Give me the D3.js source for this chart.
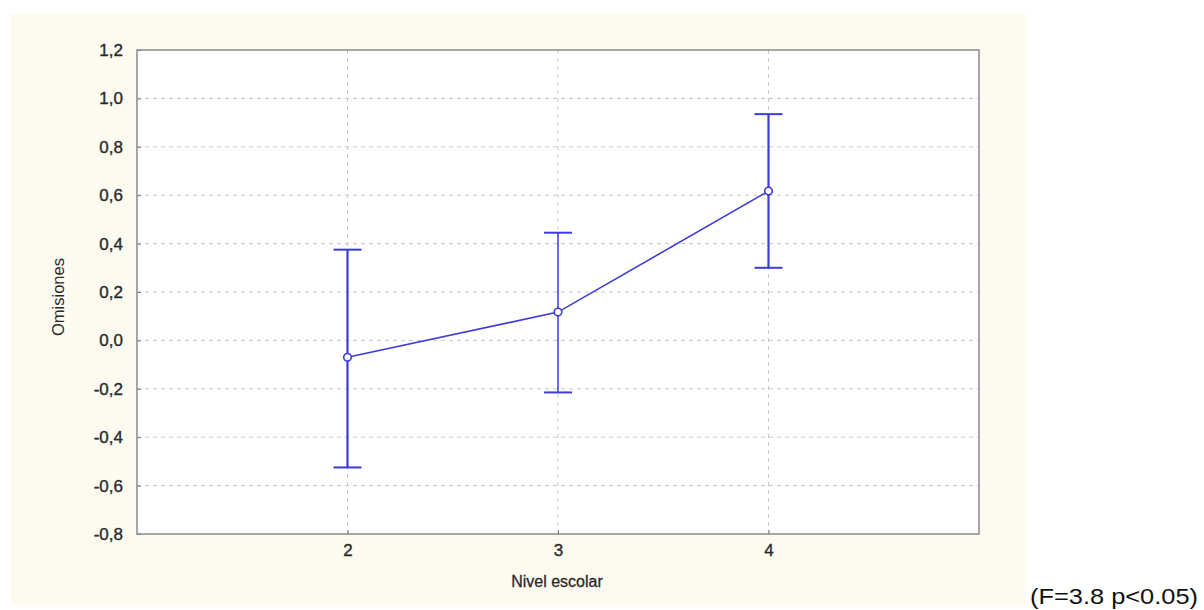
<!DOCTYPE html>
<html>
<head>
<meta charset="utf-8">
<script src="https://cdn.jsdelivr.net/npm/d3@7"></script>
<style>
  body { margin: 0; background: #fff; }
  svg { display: block; }
</style>
</head>
<body>
<div id="chart"></div>
<script>
// data
const levels = [2, 3, 4];
const means = [-0.07, 0.117, 0.617];
const upper = [0.375, 0.445, 0.935];
const lower = [-0.525, -0.215, 0.3];
const yTicks = [-0.8, -0.6, -0.4, -0.2, 0.0, 0.2, 0.4, 0.6, 0.8, 1.0, 1.2];

const W = 1204, H = 610;
const margin = { top: 50, right: 225, bottom: 76, left: 137 },
      width = 979 - margin.left,
      height = 534 - margin.top;

const svg = d3.select("#chart")
  .append("svg")
  .attr("width", W)
  .attr("height", H);

// cream panel
svg.append("rect")
  .attr("x", 11).attr("y", 14)
  .attr("width", 1015).attr("height", 591)
  .attr("fill", "#fdfaf0");

const g = svg.append("g")
  .attr("transform", `translate(${margin.left},${margin.top})`);

const x = d3.scaleLinear().domain([1, 5]).range([0, width]);
const y = d3.scaleLinear().domain([-0.8, 1.2]).range([height, 0]);

g.append("rect")
  .attr("width", width).attr("height", height)
  .attr("fill", "#fff");

// grid
g.selectAll(".hgrid")
  .data(yTicks.slice(1, -1))
  .enter().append("line")
  .attr("x1", 0).attr("x2", width)
  .attr("y1", d => y(d)).attr("y2", d => y(d))
  .attr("stroke", "#c8c8c8")
  .attr("stroke-dasharray", "4,4");

g.selectAll(".vgrid")
  .data(levels)
  .enter().append("line")
  .attr("x1", d => x(d)).attr("x2", d => x(d))
  .attr("y1", 0).attr("y2", height)
  .attr("stroke", "#c8c8c8")
  .attr("stroke-dasharray", "4,4");

// axes
const fmt = d => d3.format(".1f")(d).replace(".", ",").replace("−", "-");
const yAxis = g.append("g")
  .call(d3.axisLeft(y).tickValues(yTicks).tickFormat(fmt).tickSize(-4).tickPadding(14));
const xAxis = g.append("g")
  .attr("transform", `translate(0,${height})`)
  .call(d3.axisBottom(x).tickValues(levels).tickFormat(d3.format("d")).tickSize(-4).tickPadding(10));

[yAxis, xAxis].forEach(a => {
  a.attr("font-size", null).attr("font-family", null);
  a.select(".domain").remove();
  a.selectAll(".tick line").attr("stroke", "#777");
  a.selectAll(".tick text")
    .attr("fill", "#2a2a2a")
    .attr("stroke", "#2a2a2a")
    .attr("stroke-width", 0.35)
    .style("font-family", "Liberation Sans, Arial, sans-serif")
    .style("font-size", "17px");
});

// frame
g.append("rect")
  .attr("width", width).attr("height", height)
  .attr("fill", "none")
  .attr("stroke", "#8a8a8a")
  .attr("stroke-width", 1.5);

const blue = "#3c3cdc";

// error bars
levels.forEach((lv, i) => {
  const cx = x(lv);
  const sw = i === 1 ? 1.5 : 2.2;
  g.append("line")
    .attr("x1", cx).attr("x2", cx)
    .attr("y1", y(upper[i])).attr("y2", y(lower[i]))
    .attr("stroke", blue).attr("stroke-width", sw);
  [upper[i], lower[i]].forEach(v => {
    g.append("line")
      .attr("x1", cx - 14).attr("x2", cx + 14)
      .attr("y1", y(v)).attr("y2", y(v))
      .attr("stroke", blue).attr("stroke-width", 2);
  });
});

// mean line
g.append("path")
  .datum(levels.map((lv, i) => [lv, means[i]]))
  .attr("fill", "none")
  .attr("stroke", blue)
  .attr("stroke-width", 1.6)
  .attr("d", d3.line().x(d => x(d[0])).y(d => y(d[1])));

g.selectAll(".pt")
  .data(levels.map((lv, i) => [lv, means[i]]))
  .enter().append("circle")
  .attr("cx", d => x(d[0]))
  .attr("cy", d => y(d[1]))
  .attr("r", 3.8)
  .attr("fill", "#fff")
  .attr("stroke", blue)
  .attr("stroke-width", 1.6);

// titles
svg.append("text")
  .attr("x", 557).attr("y", 587)
  .attr("text-anchor", "middle")
  .attr("fill", "#2a2a2a")
  .attr("stroke", "#2a2a2a")
  .attr("stroke-width", 0.3)
  .style("font-family", "Liberation Sans, Arial, sans-serif")
  .style("font-size", "16px")
  .text("Nivel escolar");

svg.append("text")
  .attr("transform", "translate(64,297) rotate(-90)")
  .attr("text-anchor", "middle")
  .attr("fill", "#2a2a2a")
  .style("font-family", "Liberation Sans Narrow, Liberation Sans, Arial, sans-serif")
  .style("font-size", "17px")
  .attr("textLength", 78)
  .attr("lengthAdjust", "spacingAndGlyphs")
  .text("Omisiones");

svg.append("text")
  .attr("x", 1030).attr("y", 604)
  .attr("fill", "#111")
  .style("font-family", "Liberation Sans Narrow, Liberation Sans, Arial, sans-serif")
  .style("font-size", "22px")
  .attr("textLength", 168)
  .attr("lengthAdjust", "spacingAndGlyphs")
  .text("(F=3.8 p<0.05)");
</script>
</body>
</html>
